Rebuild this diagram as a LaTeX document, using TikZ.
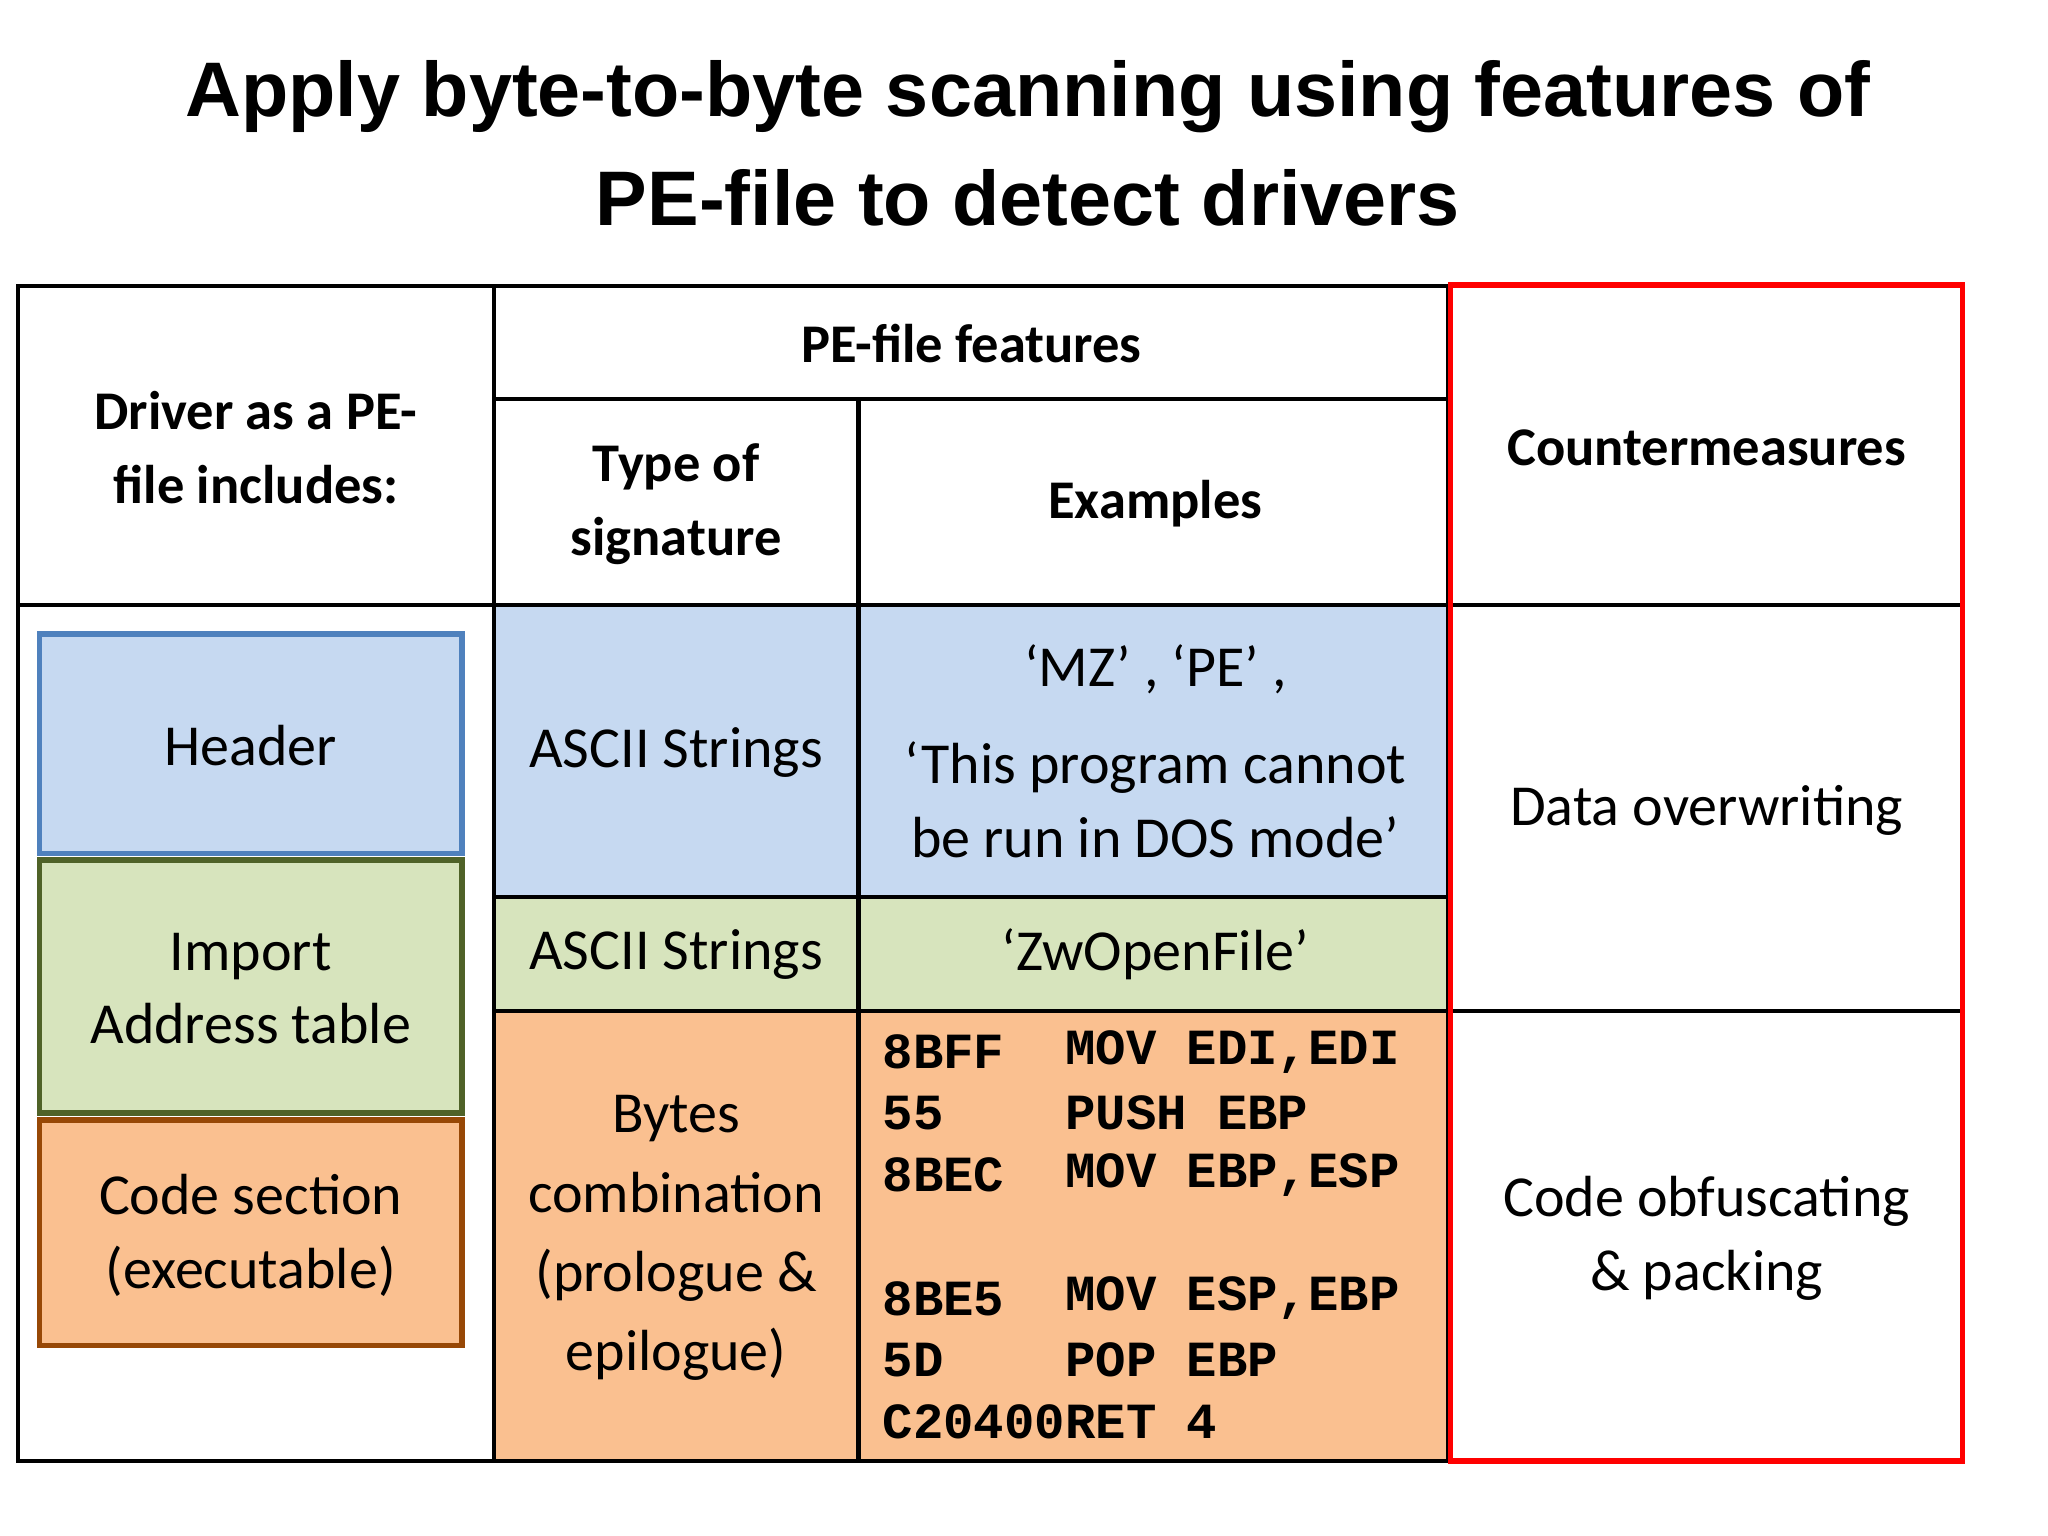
\documentclass[tikz,border=0pt]{standalone}
\usepackage{fontspec}
\setmainfont{Carlito}
\newfontfamily\titlefont{Liberation Sans}
\newfontfamily\codefont{Liberation Mono}
\definecolor{bluef}{HTML}{C6D9F1}\definecolor{bluel}{HTML}{4F81BD}
\definecolor{greenf}{HTML}{D7E4BD}\definecolor{greenl}{HTML}{4F6228}
\definecolor{orangef}{HTML}{FAC090}\definecolor{orangel}{HTML}{974806}
\begin{document}
\begin{tikzpicture}[x=0.01313cm,y=-0.01313cm,
  txt/.style={align=center,font=\fontsize{16.5}{21}\selectfont},
  hdr/.style={align=center,font=\fontsize{15.5}{21}\selectfont\bfseries},
  cd/.style={anchor=west,font=\fontsize{14.4}{16}\selectfont\codefont\bfseries},
  grid/.style={line width=1.2pt}]
\useasboundingbox (0,0) rectangle (1560,1170);
% cell fills
\fill[bluef] (376,461) rectangle (1103,683);
\fill[greenf] (376,683) rectangle (1103,770);
\fill[orangef] (376,770) rectangle (1103,1113);
% grid
\draw[grid] (14,218) rectangle (1103,1113);
\draw[grid] (376,218) -- (376,1113);
\draw[grid] (654,304) -- (654,1113);
\draw[grid] (376,304) -- (1103,304);
\draw[grid] (14,461) -- (1495,461);
\draw[grid] (376,683) -- (1103,683);
\draw[grid] (376,770) -- (1495,770);
\draw[grid] (1103,218) -- (1495,218);
\draw[grid] (1103,1113) -- (1495,1113);
\draw[red,line width=1.6pt] (1105,217) rectangle (1495,1113);
% left boxes
\draw[bluel,fill=bluef,line width=1.6pt] (30,483) rectangle (352,650);
\draw[greenl,fill=greenf,line width=1.6pt] (30,655) rectangle (352,848);
\draw[orangel,fill=orangef,line width=1.6pt] (30,853) rectangle (352,1025);
% title
\node[font=\fontsize{22}{31}\selectfont\titlefont\bfseries,align=center] (title) at (783,109) {Apply byte-to-byte scanning using features of\\PE-file to detect drivers};
% headers
\node[hdr] (h1) at (195,341) {Driver as a PE-\\file includes:};
\node[hdr] (h2) at (740,262) {PE-file features};
\node[hdr] (h3) at (515,384) {Type of\\signature};
\node[hdr] (h4) at (880,384) {Examples};
\node[hdr] (h5) at (1300,341) {Countermeasures};
% body
\node[txt] (b1) at (191,568) {Header};
\node[txt] (b2) at (191,753) {Import\\Address table};
\node[txt] (b3) at (191,941) {Code section\\(executable)};
\node[txt] (s1) at (515,573) {ASCII Strings};
\node[txt] (s2) at (515,727) {ASCII Strings};
\node[txt,font=\fontsize{16.5}{22.5}\selectfont] (s3) at (515,943) {Bytes\\combination\\(prologue \&\\epilogue)};
\node[txt] (e1) at (880,510) {‘MZ’ , ‘PE’ ,};
\node[txt] (e2) at (880,609) {‘This program cannot\\be run in DOS mode’};
\node[txt] (e3) at (880,727) {‘ZwOpenFile’};
\node[txt] (c1) at (1300,617) {Data overwriting};
\node[txt] (c2) at (1300,943) {Code obfuscating\\\& packing};
% code
\node[cd] (k1) at (663,801) {8BFF};  \node[cd] (m1) at (802,801) {MOV EDI,EDI};
\node[cd] (k2) at (663,848) {55};    \node[cd] (m2) at (802,848) {PUSH EBP};
\node[cd] (k3) at (663,895) {8BEC};  \node[cd] (m3) at (802,895) {MOV EBP,ESP};
\node[cd] (k4) at (663,989) {8BE5};  \node[cd] (m4) at (802,989) {MOV ESP,EBP};
\node[cd] (k5) at (663,1036) {5D};   \node[cd] (m5) at (802,1036) {POP EBP};
\node[cd] (k6) at (663,1083) {C20400}; \node[cd] (m6) at (802,1083) {RET 4};
\end{tikzpicture}
\end{document}
